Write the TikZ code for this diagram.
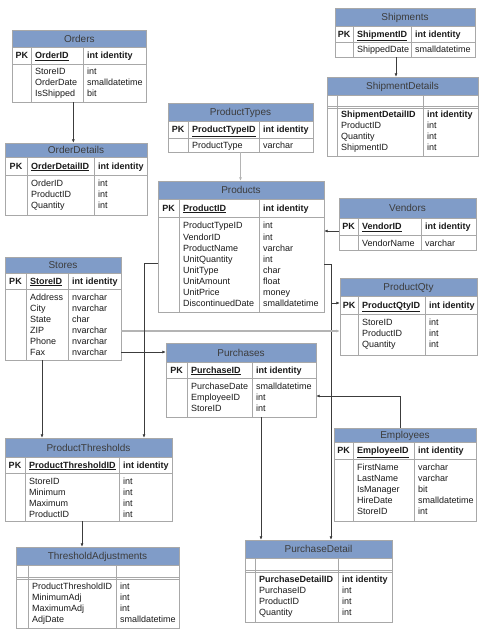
\documentclass[tikz,border=0pt]{standalone}
\usepackage{fontspec}
\setmainfont{Liberation Sans}
\usetikzlibrary{arrows.meta,fit}
\definecolor{ERHead}{HTML}{809CC8}
\definecolor{ERLine}{HTML}{A8A8A8}
\definecolor{ERText}{HTML}{1A1A1A}
\definecolor{ERLink}{HTML}{3C3C3C}
\definecolor{ERSoft}{HTML}{B4B4B4}

% table frame: id, title, x0/x1/x2/x3, y0/y1/y2/y3
\newcommand{\ertable}[4]{%
  \foreach \xa/\xb/\xc/\xd in {#3}{
    \foreach \ya/\yb/\yc/\yd in {#4}{
      \fill[ERHead] (\xa,\ya) rectangle (\xd,\yb);
      \draw[tblline] (\xa,\ya) rectangle (\xd,\yd);
      \draw[tblline] (\xa,\yb) -- (\xd,\yb) (\xa,\yc) -- (\xd,\yc)
        (\xb,\yb) -- (\xb,\yd) (\xc,\yb) -- (\xc,\yd);
      \node[tbltitle] (#1-title) at ({(\xa+\xd)/2},{(\ya+\yb)/2+3.6}) {#2};
      \node[inner sep=0pt, fit={(\xa,\ya) (\xd,\yd)}] (#1) {};
    }}}

% key row: id, x0/x1/x2, y1/y2, key, type
\newcommand{\pkrow}[5]{%
  \foreach \xa/\xb/\xc in {#2}{
    \foreach \yb/\yc in {#3}{
      \node[pktext, anchor=base] (#1-pk) at ({(\xa+\xb)/2},{(\yb+\yc)/2+3.2}) {PK};
      \node[pktext, anchor=base west] (#1-key) at (\xb+4,{(\yb+\yc)/2+3.2}) {\underline{#4}};
      \node[pktext, anchor=base west] (#1-keytype) at (\xc+4,{(\yb+\yc)/2+3.2}) {#5};
    }}}

% body rows: id, x1/x2, top, name/type list
\newcommand{\fields}[4]{%
  \foreach \xb/\xc in {#2}{
    \foreach \fname/\ftype [count=\i] in {#4}{
      \node[fieldtext] (#1-f\i) at (\xb+4,#3+11*\i) {\fname};
      \node[fieldtext] (#1-t\i) at (\xc+4,#3+11*\i) {\ftype};
    }}}

\begin{document}
\begin{tikzpicture}[
    x=1pt, y=-1pt,
    tblline/.style={draw=ERLine, line width=0.8pt},
    tbltitle/.style={anchor=base, inner sep=0pt, text=ERText!85,
      font=\fontsize{10}{12}\selectfont},
    pktext/.style={inner sep=0pt, text=ERText,
      font=\fontsize{9}{11}\selectfont\bfseries},
    fieldtext/.style={anchor=base west, inner sep=0pt, text=ERText,
      font=\fontsize{9}{11}\selectfont},
    fk/.style={-{Latex[length=3.5pt,width=3pt]}, draw=ERLink, line width=0.6pt},
    fksoft/.style={-{Latex[length=3.5pt,width=3pt]}, draw=ERSoft, line width=1.4pt}
  ]
  \useasboundingbox[fill=white] (0,0) rectangle (482,636);

  % tables
  \ertable{orders}{Orders}{12.7/31/83/146}{30/47/64/102}
  \pkrow{orders}{12.7/31/83}{47/64}{OrderID}{int identity}
  \fields{orders}{31/83}{64}{StoreID/int, OrderDate/smalldatetime, IsShipped/bit}

  \ertable{orderdetails}{OrderDetails}{5/27/94/147}{143/157/175/215}
  \pkrow{orderdetails}{5/27/94}{157/175}{OrderDetailID}{int identity}
  \fields{orderdetails}{27/94}{175}{OrderID/int, ProductID/int, Quantity/int}

  \ertable{producttypes}{ProductTypes}{168/188/259/313}{103/121/138/152}
  \pkrow{producttypes}{168/188/259}{121/138}{ProductTypeID}{int identity}
  \fields{producttypes}{188/259}{137.5}{ProductType/varchar}

  \ertable{shipments}{Shipments}{335/353/411/475}{8/26/42/57}
  \pkrow{shipments}{335/353/411}{26/42}{ShipmentID}{int identity}
  \fields{shipments}{353/411}{42}{ShippedDate/smalldatetime}

  \ertable{shipmentdetails}{ShipmentDetails}{327/337/423/478}{77/95/106/156}
  \draw[tblline] (327,108) -- (478,108);
  \fields{shipmentdetails}{337/423}{106.5}{\textbf{ShipmentDetailID}/\textbf{int identity},
    ProductID/int, Quantity/int, ShipmentID/int}

  \ertable{products}{Products}{158/179/259/324}{181/199/217/312}
  \pkrow{products}{158/179/259}{199/217}{ProductID}{int identity}
  \fields{products}{179/259}{218}{ProductTypeID/int, VendorID/int, ProductName/varchar,
    UnitQuantity/int, UnitType/char, UnitAmount/float, UnitPrice/money,
    DiscontinuedDate/smalldatetime}

  \ertable{vendors}{Vendors}{339/358/421/476}{198/218/235/250}
  \pkrow{vendors}{339/358/421}{218/235}{VendorID}{int identity}
  \fields{vendors}{358/421}{235}{VendorName/varchar}

  \ertable{stores}{Stores}{5/26/68/121}{257/273/289/360}
  \pkrow{stores}{5/26/68}{273/289}{StoreID}{int identity}
  \fields{stores}{26/68}{289}{Address/nvarchar, City/nvarchar, State/char,
    ZIP/nvarchar, Phone/nvarchar, Fax/nvarchar}

  \ertable{productqty}{ProductQty}{340/358/425/477}{278/296/314/355}
  \pkrow{productqty}{340/358/425}{296/314}{ProductQtyID}{int identity}
  \fields{productqty}{358/425}{314}{StoreID/int, ProductID/int, Quantity/int}

  \ertable{purchases}{Purchases}{166/187/252/316}{343/362/378/417}
  \pkrow{purchases}{166/187/252}{362/378}{PurchaseID}{int identity}
  \fields{purchases}{187/252}{378}{PurchaseDate/smalldatetime, EmployeeID/int, StoreID/int}

  \ertable{employees}{Employees}{334/353/414/476}{428/442/459/521}
  \pkrow{employees}{334/353/414}{442/459}{EmployeeID}{int identity}
  \fields{employees}{353/414}{459}{FirstName/varchar, LastName/varchar, IsManager/bit,
    HireDate/smalldatetime, StoreID/int}

  \ertable{productthresholds}{ProductThresholds}{5/25/119/172}{438/457/473/521}
  \pkrow{productthresholds}{5/25/119}{457/473}{ProductThresholdID}{int identity}
  \fields{productthresholds}{25/119}{473}{StoreID/int, Minimum/int, Maximum/int, ProductID/int}

  \ertable{thresholdadjustments}{ThresholdAdjustments}{16/28/116/179}{547/565/577/628}
  \draw[tblline] (16,579) -- (179,579);
  \fields{thresholdadjustments}{28/116}{578}{ProductThresholdID/int, MinimumAdj/int,
    MaximumAdj/int, AdjDate/smalldatetime}

  \ertable{purchasedetail}{PurchaseDetail}{245/255/338/392}{540/558/570/622}
  \draw[tblline] (245,572) -- (392,572);
  \fields{purchasedetail}{255/338}{571}{\textbf{PurchaseDetailID}/\textbf{int identity},
    PurchaseID/int, ProductID/int, Quantity/int}

  % connector ends
  \coordinate (o-out) at ([xshift=-6pt]orders.south);
  \coordinate (sh-out) at ([xshift=-9pt]shipments.south);
  \coordinate (v-out) at ([yshift=-7pt]vendors.west);
  \coordinate (p-out) at ([yshift=-17.5pt]products.east);
  \coordinate (pd-in) at ([xshift=12.5pt]purchasedetail.north);
  \coordinate (pq-in) at ([yshift=13.5pt]productqty.west);
  \coordinate (s-q) at ([yshift=-22.5pt]stores.east);
  \coordinate (s-pu) at ([yshift=-43.5pt]stores.east);
  \coordinate (p-left) at ([yshift=-16.5pt]products.west);
  \coordinate (pt-in) at ([xshift=55.5pt]productthresholds.north);
  \coordinate (s-down) at ([xshift=-21pt]stores.south);
  \coordinate (pt-out) at ([xshift=-6.5pt]productthresholds.south);
  \coordinate (pu-out) at ([xshift=20pt]purchases.south);
  \coordinate (e-out) at ([xshift=-4.5pt]employees.north);
  \coordinate (pu-in) at ([yshift=-16pt]purchases.east);

  % relations
  \draw[fk] (o-out) -- (o-out |- orderdetails.north);
  \draw[fksoft] (producttypes.south) -- (producttypes.south |- products.north);
  \draw[fk] (sh-out) -- (sh-out |- shipmentdetails.north);
  \draw[fk] (v-out) -- (v-out -| products.east);
  \draw[fk] (p-out) -| (pd-in);
  \draw[fk] (pd-in |- pq-in) -- (pq-in);
  \draw[fksoft] (s-q) -- (s-q -| productqty.west);
  \draw[fk] (s-pu) -- (s-pu -| purchases.west);
  \draw[fk] (p-left) -| (pt-in);
  \draw[fk] (s-down) -- (s-down |- productthresholds.north);
  \draw[fk] (pt-out) -- (pt-out |- thresholdadjustments.north);
  \draw[fk] (pu-out) -- (pu-out |- purchasedetail.north);
  \draw[fk] (e-out) |- (pu-in);

\end{tikzpicture}
\end{document}
